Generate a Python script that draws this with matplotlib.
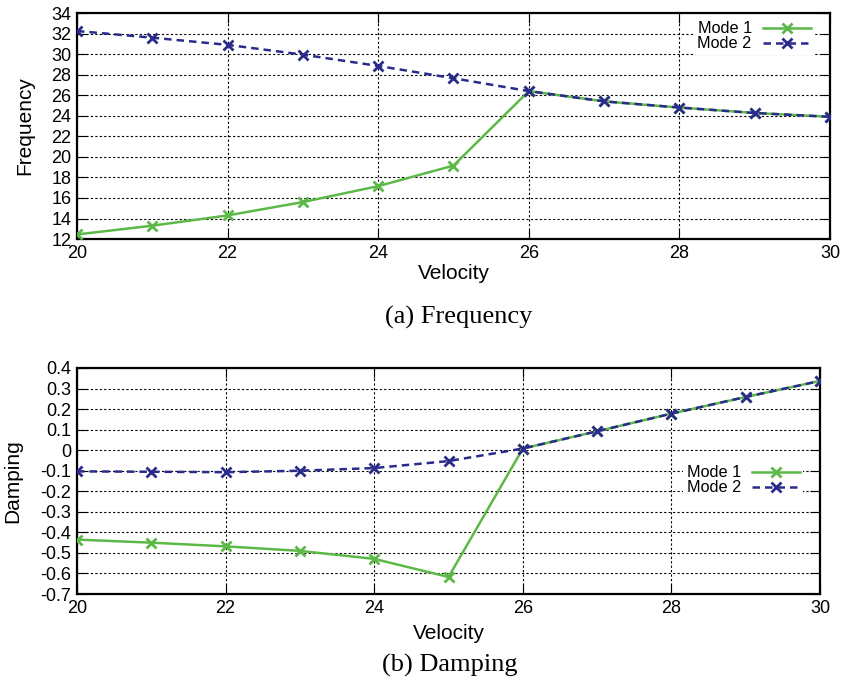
import matplotlib
matplotlib.use("Agg")
import matplotlib.pyplot as plt
from matplotlib.ticker import MultipleLocator

velocity = [20, 21, 22, 23, 24, 25, 26, 27, 28, 29, 30]

freq_mode1 = [12.45, 13.3, 14.3, 15.6, 17.15, 19.15, 26.4, 25.4, 24.8, 24.27, 23.9]
freq_mode2 = [32.25, 31.6, 30.9, 29.95, 28.85, 27.65, 26.4, 25.4, 24.8, 24.27, 23.9]

damp_mode1 = [-0.435, -0.45, -0.468, -0.49, -0.529, -0.617, 0.008, 0.092, 0.178, 0.259, 0.337]
damp_mode2 = [-0.103, -0.105, -0.107, -0.1, -0.087, -0.053, 0.008, 0.092, 0.178, 0.259, 0.337]

GREEN = "#5cb947"
BLUE = "#2b2b8c"

plt.rcParams["font.family"] = ["Liberation Sans", "DejaVu Sans"]

fig = plt.figure(figsize=(8.42, 6.85), dpi=100)
ax1 = fig.add_axes([0.0914, 0.651, 0.8943, 0.330])
ax2 = fig.add_axes([0.0914, 0.1328, 0.8826, 0.330])


def style_axes(ax, ylo, yhi, ystep, ylabel, ypad, xpad):
    ax.set_xlim(20, 30)
    ax.set_ylim(ylo, yhi)
    ax.xaxis.set_major_locator(MultipleLocator(2))
    ax.yaxis.set_major_locator(MultipleLocator(ystep))
    ax.grid(True, color="black", linestyle=(0, (2, 2)), linewidth=0.8)
    ax.tick_params(direction="in", top=True, right=True, length=7,
                   labelsize=13, pad=4)
    for s in ax.spines.values():
        s.set_linewidth(1.6)
    ax.set_xlabel("Velocity", fontsize=15, labelpad=xpad)
    ax.set_ylabel(ylabel, fontsize=15, labelpad=ypad)


ax1.plot(velocity, freq_mode1, color=GREEN, lw=1.8, marker="x", ms=7, mew=2,
         label="Mode 1", zorder=3)
ax1.plot(velocity, freq_mode2, color=BLUE, lw=1.8, ls=(0, (3, 2)), marker="x",
         ms=7, mew=2, label="Mode 2", zorder=4)
style_axes(ax1, 12, 34, 2, "Frequency", 12, 2)
ax1.set_yticks(range(12, 35, 2))
ax1.set_yticklabels([str(v) for v in range(12, 35, 2)])

ax2.plot(velocity, damp_mode1, color=GREEN, lw=1.8, marker="x", ms=7, mew=2,
         label="Mode 1", zorder=3)
ax2.plot(velocity, damp_mode2, color=BLUE, lw=1.8, ls=(0, (3, 2)), marker="x",
         ms=7, mew=2, label="Mode 2", zorder=4)
style_axes(ax2, -0.7, 0.4, 0.1, "Damping", 13, 5)
yt = [round(-0.7 + 0.1 * i, 1) for i in range(12)]
ax2.set_yticks(yt)
ax2.set_yticklabels(["0" if v == 0 else f"{v:g}" for v in yt])

for ax, anchor in ((ax1, (0.9667, 0.9737)), (ax2, (0.9537, 0.3255))):
    leg = ax.legend(loc="upper right", bbox_to_anchor=anchor,
                    bbox_transform=fig.transFigure, markerfirst=False,
                    frameon=True, fancybox=False, edgecolor="white",
                    framealpha=1, fontsize=11.7, handlelength=2.95,
                    borderpad=0.2, borderaxespad=0, labelspacing=0.0,
                    handletextpad=0.68)
    leg.get_frame().set_linewidth(0)
    for t in leg.get_texts():
        t.set_ha("right")

fig.text(0.545, 0.537, "(a) Frequency", ha="center", va="center",
         fontsize=19, family="Liberation Serif")
fig.text(0.534, 0.029, "(b) Damping", ha="center", va="center",
         fontsize=19, family="Liberation Serif")

fig.savefig("out.png", dpi=100)
